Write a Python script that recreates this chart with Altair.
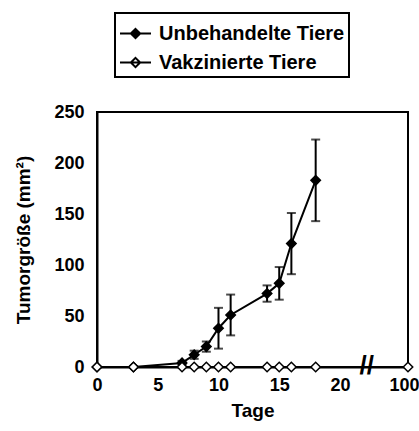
import altair as alt
import pandas as pd

# Untreated animals (filled diamonds)
days_untreated = [0, 3, 7, 8, 9, 10, 11, 14, 15, 16, 18]
mean_untreated = [0, 0, 4, 12, 20, 38, 51, 72, 82, 121, 183]
err_untreated = [0, 0, 2, 4, 5, 20, 20, 8, 16, 30, 40]

# Vaccinated animals (open diamonds)
days_vaccinated = [0, 3, 7, 8, 9, 10, 11, 14, 15, 16, 18, 100]
mean_vaccinated = [0, 0, 0, 0, 0, 0, 0, 0, 0, 0, 0, 0]
err_vaccinated = [0] * len(days_vaccinated)

series_names = ["Unbehandelte Tiere", "Vakzinierte Tiere"]
x_ticks = [0, 5, 10, 15, 20, 100]
y_ticks = [0, 50, 100, 150, 200, 250]

rows = []
for d, m, e in zip(days_untreated, mean_untreated, err_untreated):
    rows.append({"series": series_names[0], "day": d, "mean": m, "err": e, "ord": 0})
for d, m, e in zip(days_vaccinated, mean_vaccinated, err_vaccinated):
    rows.append({"series": series_names[1], "day": d, "mean": m, "err": e, "ord": 1})
df = pd.DataFrame(rows)

# broken axis: day 100 is drawn just after the break
BREAK_POS = 25.6
df["xpos"] = [BREAK_POS if d > 50 else d for d in df["day"]]
df["lo"] = df["mean"] - df["err"]
df["hi"] = df["mean"] + df["err"]
tick_pos = [BREAK_POS if t > 50 else t for t in x_ticks]

FONT = "Liberation Sans"

xscale = alt.Scale(domain=[0, BREAK_POS], nice=False, zero=False)
yscale = alt.Scale(domain=[0, 250], nice=False)

x_enc = alt.X(
    "xpos:Q",
    scale=xscale,
    axis=alt.Axis(
        values=tick_pos,
        labelExpr="datum.value > 24 ? '100' : datum.label",
        labelOffset={"condition": {"test": "datum.value > 24", "value": -4}, "value": 0},
        title="Tage",
        grid=False,
        ticks=False,
        labelPadding=9,
        titlePadding=7,
        labelFlush=False,
    ),
)
y_enc = alt.Y(
    "mean:Q",
    scale=yscale,
    axis=alt.Axis(
        values=y_ticks,
        title="Tumorgröße (mm²)",
        grid=False,
        ticks=False,
        labelPadding=13,
        titlePadding=20,
    ),
)

base = alt.Chart(df)

lines = base.mark_line(color="black", strokeWidth=2).encode(
    x=x_enc, y=y_enc, detail="series:N", order="day:Q"
)

errs = df[df["err"] > 0]
err_base = alt.Chart(errs)
rules = err_base.mark_rule(color="black", strokeWidth=2).encode(
    x=alt.X("xpos:Q", scale=xscale), y=alt.Y("lo:Q", scale=yscale), y2="hi:Q"
)
caps_lo = err_base.mark_tick(color="black", thickness=2, size=9, orient="horizontal").encode(
    x=alt.X("xpos:Q", scale=xscale), y=alt.Y("lo:Q", scale=yscale)
)
caps_hi = err_base.mark_tick(color="black", thickness=2, size=9, orient="horizontal").encode(
    x=alt.X("xpos:Q", scale=xscale), y=alt.Y("hi:Q", scale=yscale)
)

legend_symbol = "M-1,0H1M0,-0.3L0.3,0L0,0.3L-0.3,0Z"

points = base.mark_point(shape="diamond", size=90, filled=False, stroke="black",
                         strokeWidth=1.5, opacity=1).encode(
    x=alt.X("xpos:Q", scale=xscale),
    y=alt.Y("mean:Q", scale=yscale),
    fill=alt.Fill(
        "series:N",
        scale=alt.Scale(domain=series_names, range=["black", "white"]),
        legend=alt.Legend(
            title=None,
            orient="none",
            legendX=18,
            legendY=-99,
            symbolType=legend_symbol,
            symbolSize=961,
            symbolStrokeColor="black",
            symbolStrokeWidth=2,
            symbolOpacity=1,
            labelFont=FONT,
            labelFontSize=20,
            labelFontWeight="bold",
            labelColor="black",
            labelOffset=7,
            labelLimit=400,
            rowPadding=2,
            padding=4,
            strokeColor="black",
        ),
    ),
    order="ord:Q",
)

break_df = pd.DataFrame({"xpos": [22.2], "mean": [0], "txt": ["//"]})
brk = alt.Chart(break_df).mark_text(
    text="//", font=FONT, fontSize=26, fontWeight="bold", color="black", dy=-1
).encode(x=alt.X("xpos:Q", scale=xscale), y=alt.Y("mean:Q", scale=yscale))

chart = (
    alt.layer(lines, rules, caps_lo, caps_hi, points, brk)
    .properties(
        width=311,
        height=255,
        autosize=alt.AutoSizeParams(type="none"),
        padding={"left": 97, "top": 112, "right": 11, "bottom": 64},
        background="white",
    )
    .configure_view(stroke="black", strokeWidth=2)
    .configure_axis(
        domainColor="black",
        domainWidth=2,
        labelFont=FONT,
        labelFontSize=18,
        labelFontWeight="bold",
        labelColor="black",
        titleFont=FONT,
        titleFontSize=19,
        titleFontWeight="bold",
        titleColor="black",
    )
    .configure_legend(strokeWidth=2)
)

chart.save("out.html", embed_options={"renderer": "svg", "actions": False})
